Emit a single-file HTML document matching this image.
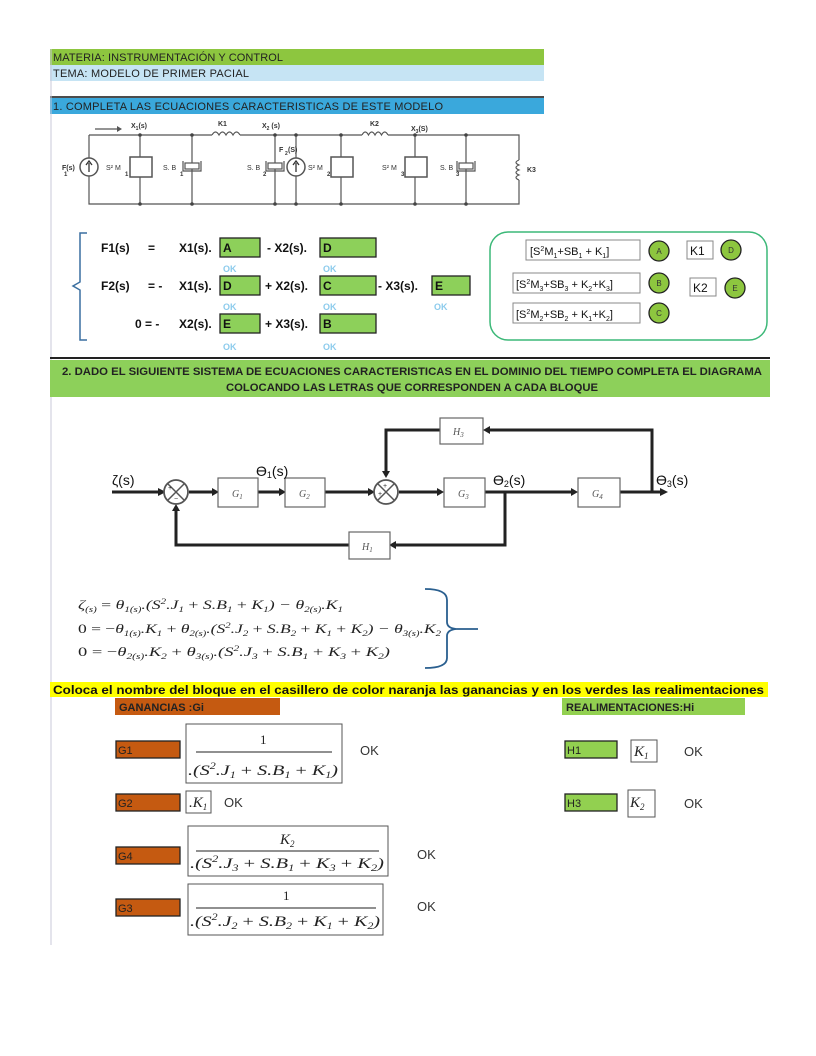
<!DOCTYPE html>
<html><head><meta charset="utf-8"><style>
html,body{margin:0;padding:0;background:#fff;}
svg{display:block;}
.s{font-family:"Liberation Sans",sans-serif;}
.m{font-family:"Liberation Serif",serif;font-style:italic;}
</style></head><body>
<svg width="816" height="1056" viewBox="0 0 816 1056" xmlns="http://www.w3.org/2000/svg">
<!-- header bars -->
<rect x="50" y="49" width="494" height="16" fill="#8dc63f"/>
<text x="53" y="61" class="s" font-size="11" fill="#222" textLength="230">MATERIA: INSTRUMENTACIÓN Y CONTROL</text>
<rect x="50" y="65" width="494" height="16" fill="#c6e4f4"/>
<text x="53" y="77" class="s" font-size="11" fill="#222" textLength="196">TEMA: MODELO DE PRIMER PACIAL</text>
<line x1="50" y1="97" x2="544" y2="97" stroke="#111" stroke-width="1.5"/>
<rect x="50" y="98" width="494" height="16" fill="#3aa8dc"/>
<text x="53" y="110" class="s" font-size="11" fill="#222" textLength="390">1. COMPLETA LAS ECUACIONES CARACTERISTICAS DE ESTE MODELO</text>
<line x1="51" y1="49" x2="51" y2="945" stroke="#c8c8d8" stroke-width="1"/>

<!-- circuit -->
<g stroke="#555" stroke-width="1.2" fill="none">
<path d="M89 135 H212 M240 135 H362 M388 135 H519 V160 M519 180 V204 H89 V135"/>
<path d="M212 135 q3.5 -6 7 0 q3.5 -6 7 0 q3.5 -6 7 0 q3.5 -6 7 0"/>
<path d="M362 135 q3.2 -6 6.5 0 q3.2 -6 6.5 0 q3.2 -6 6.5 0 q3.2 -6 6.5 0"/>
<path d="M519 160 q-6 2.5 0 5 q-6 2.5 0 5 q-6 2.5 0 5 q-6 2.5 0 5"/>
<path d="M140 135 V157 M140 177 V204"/><rect x="130" y="157" width="22" height="20" stroke-width="1.5"/>
<path d="M341 135 V157 M341 177 V204"/><rect x="331" y="157" width="22" height="20" stroke-width="1.5"/>
<path d="M415 135 V157 M415 177 V204"/><rect x="405" y="157" width="22" height="20" stroke-width="1.5"/>
<path d="M192 135 V163 M192 169 V204"/><rect x="185" y="163" width="14" height="6"/><path d="M183 161 V171 H201 V161"/>
<path d="M275 135 V163 M275 169 V204"/><rect x="268" y="163" width="14" height="6"/><path d="M266 161 V171 H284 V161"/>
<path d="M466 135 V163 M466 169 V204"/><rect x="459" y="163" width="14" height="6"/><path d="M457 161 V171 H475 V161"/>
<path d="M296 135 V204"/>
<path d="M95 129 H120"/>
</g>
<circle cx="89" cy="167" r="9" fill="#fff" stroke="#555" stroke-width="1.5"/>
<circle cx="296" cy="167" r="9" fill="#fff" stroke="#555" stroke-width="1.5"/>
<path d="M89 172 V163 M86 165 L89 161 L92 165 M296 172 V163 M293 165 L296 161 L299 165" stroke="#333" stroke-width="1.3" fill="none"/>
<path d="M117 126 L122 129 L117 132Z" fill="#555"/>
<g fill="#444">
<circle cx="140" cy="135" r="1.8"/><circle cx="192" cy="135" r="1.8"/><circle cx="275" cy="135" r="1.8"/><circle cx="296" cy="135" r="1.8"/><circle cx="341" cy="135" r="1.8"/><circle cx="415" cy="135" r="1.8"/><circle cx="466" cy="135" r="1.8"/>
<circle cx="140" cy="204" r="1.8"/><circle cx="192" cy="204" r="1.8"/><circle cx="275" cy="204" r="1.8"/><circle cx="296" cy="204" r="1.8"/><circle cx="341" cy="204" r="1.8"/><circle cx="415" cy="204" r="1.8"/><circle cx="466" cy="204" r="1.8"/>
</g>
<g class="s" font-size="7" font-weight="bold" fill="#333">
<text x="131" y="128">X<tspan font-size="5" dy="2">1</tspan><tspan dy="-2">(s)</tspan></text>
<text x="218" y="126">K1</text>
<text x="262" y="128">X<tspan font-size="5" dy="2">2</tspan><tspan dy="-2"> (s)</tspan></text>
<text x="370" y="126">K2</text>
<text x="411" y="131">X<tspan font-size="5" dy="2">3</tspan><tspan dy="-2">(S)</tspan></text>
<text x="62" y="170">F(s)</text><text x="64" y="176" font-size="6">1</text>
<text x="106" y="170" font-weight="normal">S² M</text><text x="125" y="176" font-size="6">1</text>
<text x="163" y="170" font-weight="normal">S. B</text><text x="180" y="176" font-size="6">1</text>
<text x="247" y="170" font-weight="normal">S. B</text><text x="263" y="176" font-size="6">2</text>
<text x="279" y="152">F</text><text x="285" y="155" font-size="5">2</text><text x="288" y="152">(S)</text>
<text x="308" y="170" font-weight="normal">S² M</text><text x="327" y="176" font-size="6">2</text>
<text x="382" y="170" font-weight="normal">S² M</text><text x="401" y="176" font-size="6">3</text>
<text x="440" y="170" font-weight="normal">S. B</text><text x="456" y="176" font-size="6">3</text>
<text x="527" y="172">K3</text>
</g>

<!-- equations part 1 -->
<path d="M87 233 H80 V282 L73 286 L80 290 V340 H87" stroke="#3a6fa0" stroke-width="1.5" fill="none"/>
<g fill="#8dd05a" stroke="#222" stroke-width="1.3">
<rect x="220" y="238" width="40" height="19"/><rect x="320" y="238" width="56" height="19"/>
<rect x="220" y="276" width="40" height="19"/><rect x="320" y="276" width="56" height="19"/><rect x="432" y="276" width="38" height="19"/>
<rect x="220" y="314" width="40" height="19"/><rect x="320" y="314" width="56" height="19"/>
</g>
<g class="s" font-size="12" font-weight="bold" fill="#111">
<text x="101" y="252">F1(s)</text><text x="148" y="252">=</text><text x="179" y="252">X1(s).</text><text x="223" y="252">A</text><text x="267" y="252">-  X2(s).</text><text x="323" y="252">D</text>
<text x="101" y="290">F2(s)</text><text x="148" y="290">= -</text><text x="179" y="290">X1(s).</text><text x="223" y="290">D</text><text x="265" y="290">+  X2(s).</text><text x="323" y="290">C</text><text x="378" y="290">-  X3(s).</text><text x="435" y="290">E</text>
<text x="135" y="328">0 =  -</text><text x="179" y="328">X2(s).</text><text x="223" y="328">E</text><text x="265" y="328">+  X3(s).</text><text x="323" y="328">B</text>
</g>
<g class="s" font-size="9" font-weight="bold" fill="#8ccbec">
<text x="223" y="272">OK</text><text x="323" y="272">OK</text>
<text x="223" y="310">OK</text><text x="323" y="310">OK</text><text x="434" y="310">OK</text>
<text x="223" y="350">OK</text><text x="323" y="350">OK</text>
</g>
<rect x="490" y="232" width="277" height="108" rx="18" fill="#fff" stroke="#3cb878" stroke-width="1.5"/>
<g fill="#fff" stroke="#888" stroke-width="1">
<rect x="526" y="240" width="114" height="20"/><rect x="513" y="273" width="127" height="20"/><rect x="513" y="303" width="127" height="20"/>
<rect x="687" y="241" width="26" height="18"/><rect x="690" y="278" width="26" height="18"/>
</g>
<g class="s" font-size="11" fill="#111">
<text x="530" y="255">[S<tspan font-size="7" dy="-4">2</tspan><tspan dy="4">M</tspan><tspan font-size="7" dy="3">1</tspan><tspan dy="-3">+SB</tspan><tspan font-size="7" dy="3">1</tspan><tspan dy="-3"> + K</tspan><tspan font-size="7" dy="3">1</tspan><tspan dy="-3">]</tspan></text>
<text x="516" y="288">[S<tspan font-size="7" dy="-4">2</tspan><tspan dy="4">M</tspan><tspan font-size="7" dy="3">3</tspan><tspan dy="-3">+SB</tspan><tspan font-size="7" dy="3">3</tspan><tspan dy="-3"> + K</tspan><tspan font-size="7" dy="3">2</tspan><tspan dy="-3">+K</tspan><tspan font-size="7" dy="3">3</tspan><tspan dy="-3">]</tspan></text>
<text x="516" y="318">[S<tspan font-size="7" dy="-4">2</tspan><tspan dy="4">M</tspan><tspan font-size="7" dy="3">2</tspan><tspan dy="-3">+SB</tspan><tspan font-size="7" dy="3">2</tspan><tspan dy="-3"> + K</tspan><tspan font-size="7" dy="3">1</tspan><tspan dy="-3">+K</tspan><tspan font-size="7" dy="3">2</tspan><tspan dy="-3">]</tspan></text>
<text x="690" y="255" font-size="12">K1</text><text x="693" y="292" font-size="12">K2</text>
</g>
<g fill="#8dc63f" stroke="#222" stroke-width="1.3">
<circle cx="659" cy="251" r="10"/><circle cx="659" cy="283" r="10"/><circle cx="659" cy="313" r="10"/><circle cx="731" cy="250" r="10"/><circle cx="735" cy="288" r="10"/>
</g>
<g class="s" font-size="8" fill="#333" text-anchor="middle">
<text x="659" y="254">A</text><text x="659" y="286">B</text><text x="659" y="316">C</text><text x="731" y="253">D</text><text x="735" y="291">E</text>
</g>

<!-- section 2 header -->
<line x1="50" y1="358" x2="770" y2="358" stroke="#222" stroke-width="2"/>
<rect x="50" y="360" width="720" height="37" fill="#8dd05a"/>
<g class="s" font-size="11" font-weight="bold" fill="#222" text-anchor="middle">
<text x="412" y="375" textLength="700" lengthAdjust="spacingAndGlyphs">2. DADO EL SIGUIENTE SISTEMA DE ECUACIONES CARACTERISTICAS EN EL DOMINIO DEL TIEMPO COMPLETA EL DIAGRAMA</text>
<text x="412" y="391" textLength="372" lengthAdjust="spacingAndGlyphs">COLOCANDO LAS LETRAS QUE CORRESPONDEN A CADA BLOQUE</text>
</g>

<!-- block diagram -->
<g stroke="#222" stroke-width="3" fill="none">
<path d="M112 492 H158 M189 492 H212 M258 492 H279 M325 492 H368 M399 492 H437 M485 492 H571 M620 492 H660"/>
<path d="M652 492 V430 H489"/>
<path d="M440 430 H386 V471"/>
<path d="M505 492 V545 H396"/>
<path d="M349 545 H176 V511"/>
</g>
<g fill="#222">
<path d="M158 488 L166 492 L158 496Z"/><path d="M212 488 L219 492 L212 496Z"/><path d="M279 488 L286 492 L279 496Z"/><path d="M368 488 L375 492 L368 496Z"/><path d="M437 488 L444 492 L437 496Z"/><path d="M571 488 L578 492 L571 496Z"/><path d="M660 488 L668 492 L660 496Z"/>
<path d="M490 426 L483 430 L490 434Z"/><path d="M382 471 L386 478 L390 471Z"/><path d="M396 541 L389 545 L396 549Z"/><path d="M172 511 L176 504 L180 511Z"/>
</g>
<g fill="#fff" stroke="#666" stroke-width="1.2">
<rect x="218" y="478" width="40" height="29"/><rect x="285" y="478" width="40" height="29"/><rect x="444" y="478" width="41" height="29"/><rect x="578" y="478" width="42" height="29"/>
<rect x="440" y="418" width="43" height="26"/><rect x="349" y="532" width="41" height="27"/>
</g>
<circle cx="176" cy="492" r="12" fill="#fff" stroke="#555" stroke-width="1.8"/>
<circle cx="386" cy="492" r="12" fill="#fff" stroke="#555" stroke-width="1.8"/>
<path d="M168 484 L184 500 M184 484 L168 500 M378 484 L394 500 M394 484 L378 500" stroke="#555" stroke-width="1.5"/>
<g font-size="7" class="s" fill="#333"><text x="168" y="490">+</text><text x="174" y="501">−</text><text x="383" y="488">+</text><text x="378" y="496">+</text></g>
<g class="m" font-size="10" fill="#555">
<text x="232" y="497">G<tspan font-size="7" dy="2">1</tspan></text><text x="299" y="497">G<tspan font-size="7" dy="2">2</tspan></text>
<text x="458" y="497">G<tspan font-size="7" dy="2">3</tspan></text><text x="592" y="497">G<tspan font-size="7" dy="2">4</tspan></text>
<text x="453" y="435">H<tspan font-size="7" dy="2">3</tspan></text><text x="362" y="550">H<tspan font-size="7" dy="2">1</tspan></text>
</g>
<g class="s" font-size="14" fill="#111">
<text x="112" y="485">ζ(s)</text>
<text x="256" y="476">ϴ<tspan font-size="9" dy="2">1</tspan><tspan dy="-2">(s)</tspan></text>
<text x="493" y="485">ϴ<tspan font-size="9" dy="2">2</tspan><tspan dy="-2">(s)</tspan></text>
<text x="656" y="485">ϴ<tspan font-size="9" dy="2">3</tspan><tspan dy="-2">(s)</tspan></text>
</g>

<!-- time-domain equations -->
<g class="m" font-size="13" fill="#222">
<text x="78" y="609" textLength="265" lengthAdjust="spacingAndGlyphs">ζ<tspan font-size="8" dy="3">(s)</tspan><tspan dy="-3" font-style="normal"> = </tspan>θ<tspan font-size="8" dy="3">1(s)</tspan><tspan dy="-3">.(S</tspan><tspan font-size="8" dy="-5">2</tspan><tspan dy="5">.J</tspan><tspan font-size="8" dy="3">1</tspan><tspan dy="-3" font-style="normal"> + </tspan>S.B<tspan font-size="8" dy="3">1</tspan><tspan dy="-3" font-style="normal"> + </tspan>K<tspan font-size="8" dy="3">1</tspan><tspan dy="-3">) − </tspan>θ<tspan font-size="8" dy="3">2(s)</tspan><tspan dy="-3">.K</tspan><tspan font-size="8" dy="3">1</tspan></text>
<text x="78" y="633" textLength="363" lengthAdjust="spacingAndGlyphs"><tspan font-style="normal">0 = −</tspan>θ<tspan font-size="8" dy="3">1(s)</tspan><tspan dy="-3">.K</tspan><tspan font-size="8" dy="3">1</tspan><tspan dy="-3" font-style="normal"> + </tspan>θ<tspan font-size="8" dy="3">2(s)</tspan><tspan dy="-3">.(S</tspan><tspan font-size="8" dy="-5">2</tspan><tspan dy="5">.J</tspan><tspan font-size="8" dy="3">2</tspan><tspan dy="-3" font-style="normal"> + </tspan>S.B<tspan font-size="8" dy="3">2</tspan><tspan dy="-3" font-style="normal"> + </tspan>K<tspan font-size="8" dy="3">1</tspan><tspan dy="-3" font-style="normal"> + </tspan>K<tspan font-size="8" dy="3">2</tspan><tspan dy="-3">) − </tspan>θ<tspan font-size="8" dy="3">3(s)</tspan><tspan dy="-3">.K</tspan><tspan font-size="8" dy="3">2</tspan></text>
<text x="78" y="656" textLength="312" lengthAdjust="spacingAndGlyphs"><tspan font-style="normal">0 = −</tspan>θ<tspan font-size="8" dy="3">2(s)</tspan><tspan dy="-3">.K</tspan><tspan font-size="8" dy="3">2</tspan><tspan dy="-3" font-style="normal"> + </tspan>θ<tspan font-size="8" dy="3">3(s)</tspan><tspan dy="-3">.(S</tspan><tspan font-size="8" dy="-5">2</tspan><tspan dy="5">.J</tspan><tspan font-size="8" dy="3">3</tspan><tspan dy="-3" font-style="normal"> + </tspan>S.B<tspan font-size="8" dy="3">1</tspan><tspan dy="-3" font-style="normal"> + </tspan>K<tspan font-size="8" dy="3">3</tspan><tspan dy="-3" font-style="normal"> + </tspan>K<tspan font-size="8" dy="3">2</tspan><tspan dy="-3">)</tspan></text>
</g>
<path d="M425 589 Q447 589 447 600 V622 Q447 628 456 629 H478 M456 629 Q447 630 447 636 V658 Q447 668 425 668" stroke="#2a5f8f" stroke-width="1.8" fill="none"/>

<!-- yellow bar -->
<rect x="50" y="682" width="718" height="15" fill="#ffff00"/>
<text x="53" y="694" class="s" font-size="12" font-weight="bold" fill="#111" textLength="711" lengthAdjust="spacingAndGlyphs">Coloca el nombre del bloque en el casillero de color naranja las ganancias y en los verdes las realimentaciones</text>
<rect x="115" y="698" width="165" height="17" fill="#c55a11"/>
<text x="119" y="711" class="s" font-size="11" font-weight="bold" fill="#222">GANANCIAS  :Gi</text>
<rect x="562" y="698" width="183" height="17" fill="#92d050"/>
<text x="566" y="711" class="s" font-size="11" font-weight="bold" fill="#222">REALIMENTACIONES:Hi</text>

<!-- gains -->
<g stroke="#222" stroke-width="1.3">
<rect x="116" y="741" width="64" height="17" fill="#c55a11"/><rect x="116" y="794" width="64" height="17" fill="#c55a11"/>
<rect x="116" y="847" width="64" height="17" fill="#c55a11"/><rect x="116" y="899" width="64" height="17" fill="#c55a11"/>
<rect x="565" y="741" width="52" height="17" fill="#92d050"/><rect x="565" y="794" width="52" height="17" fill="#92d050"/>
</g>
<g class="s" font-size="11" fill="#222">
<text x="118" y="754">G1</text><text x="118" y="807">G2</text><text x="118" y="860">G4</text><text x="118" y="912">G3</text>
<text x="567" y="754">H1</text><text x="567" y="807">H3</text>
</g>
<g fill="none" stroke="#555" stroke-width="1">
<rect x="186" y="724" width="156" height="59"/><rect x="186" y="791" width="25" height="22"/>
<rect x="188" y="826" width="200" height="50"/><rect x="188" y="884" width="195" height="51"/>
<rect x="631" y="740" width="26" height="22"/><rect x="628" y="790" width="27" height="27"/>
</g>
<g stroke="#222" stroke-width="1"><line x1="196" y1="752" x2="332" y2="752"/><line x1="196" y1="851" x2="379" y2="851"/><line x1="196" y1="908" x2="376" y2="908"/></g>
<g class="m" font-size="15" fill="#222">
<text x="260" y="744" font-style="normal" font-size="13">1</text>
<text x="188" y="775" textLength="150" lengthAdjust="spacingAndGlyphs">.(S<tspan font-size="9" dy="-6">2</tspan><tspan dy="6">.J</tspan><tspan font-size="9" dy="3">1</tspan><tspan dy="-3" font-style="normal"> + </tspan>S.B<tspan font-size="9" dy="3">1</tspan><tspan dy="-3" font-style="normal"> + </tspan>K<tspan font-size="9" dy="3">1</tspan><tspan dy="-3">)</tspan></text>
<text x="189" y="807">.K<tspan font-size="9" dy="3">1</tspan></text>
<text x="280" y="844">K<tspan font-size="9" dy="3">2</tspan></text>
<text x="190" y="868" textLength="194" lengthAdjust="spacingAndGlyphs">.(S<tspan font-size="9" dy="-6">2</tspan><tspan dy="6">.J</tspan><tspan font-size="9" dy="3">3</tspan><tspan dy="-3" font-style="normal"> + </tspan>S.B<tspan font-size="9" dy="3">1</tspan><tspan dy="-3" font-style="normal"> + </tspan>K<tspan font-size="9" dy="3">3</tspan><tspan dy="-3" font-style="normal"> + </tspan>K<tspan font-size="9" dy="3">2</tspan><tspan dy="-3">)</tspan></text>
<text x="283" y="900" font-style="normal" font-size="13">1</text>
<text x="190" y="926" textLength="190" lengthAdjust="spacingAndGlyphs">.(S<tspan font-size="9" dy="-6">2</tspan><tspan dy="6">.J</tspan><tspan font-size="9" dy="3">2</tspan><tspan dy="-3" font-style="normal"> + </tspan>S.B<tspan font-size="9" dy="3">2</tspan><tspan dy="-3" font-style="normal"> + </tspan>K<tspan font-size="9" dy="3">1</tspan><tspan dy="-3" font-style="normal"> + </tspan>K<tspan font-size="9" dy="3">2</tspan><tspan dy="-3">)</tspan></text>
<text x="634" y="756">K<tspan font-size="9" dy="3">1</tspan></text>
<text x="630" y="807">K<tspan font-size="9" dy="3">2</tspan></text>
</g>
<g class="s" font-size="13" fill="#333">
<text x="360" y="755">OK</text><text x="224" y="807">OK</text><text x="417" y="859">OK</text><text x="417" y="911">OK</text>
<text x="684" y="756">OK</text><text x="684" y="808">OK</text>
</g>
</svg>
</body></html>
